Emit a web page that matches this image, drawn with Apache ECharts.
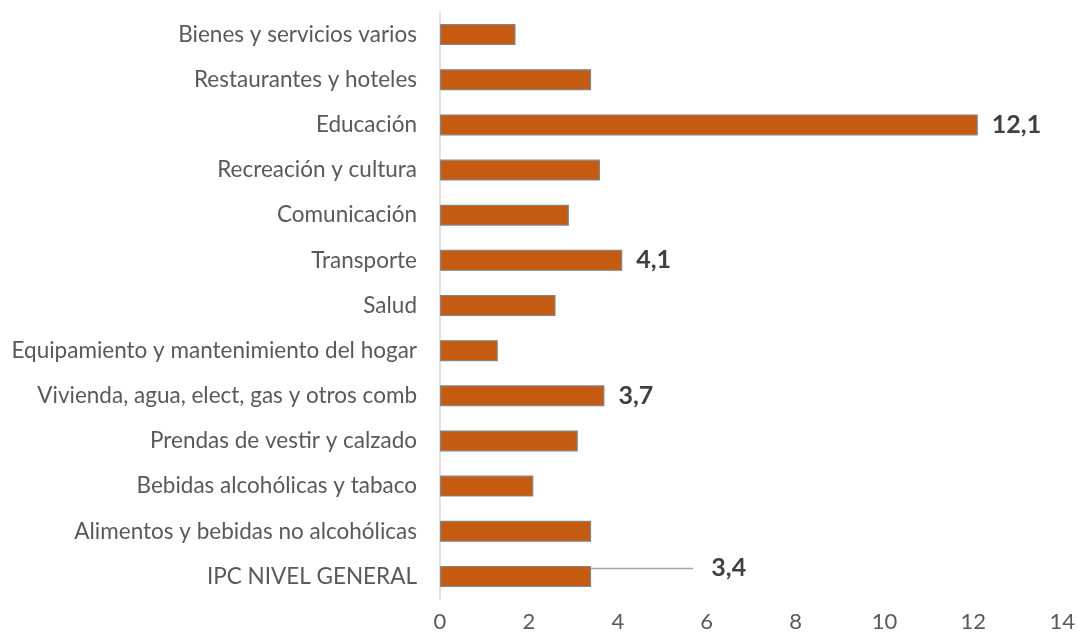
<!DOCTYPE html>
<html>
<head>
<meta charset="utf-8">
<script src="https://cdn.jsdelivr.net/npm/echarts@6/dist/echarts.min.js"></script>
<style>
  html, body { margin: 0; padding: 0; background: #fff; }
  #chart { width: 1078px; height: 639px; }
</style>
</head>
<body>
<div id="chart"></div>
<script>
// categorías, de abajo hacia arriba
const categories = [
  'IPC NIVEL GENERAL',
  'Alimentos y bebidas no alcohólicas',
  'Bebidas alcohólicas y tabaco',
  'Prendas de vestir y calzado',
  'Vivienda, agua, elect, gas y otros comb',
  'Equipamiento y mantenimiento del hogar',
  'Salud',
  'Transporte',
  'Comunicación',
  'Recreación y cultura',
  'Educación',
  'Restaurantes y hoteles',
  'Bienes y servicios varios'
]
const values = [3.4, 3.4, 2.1, 3.1, 3.7, 1.3, 2.6, 4.1, 2.9, 3.6, 12.1, 3.4, 1.7]
// solo estas barras llevan etiqueta
const labelled = ['IPC NIVEL GENERAL', 'Vivienda, agua, elect, gas y otros comb', 'Transporte', 'Educación']
const xTicks = [0, 2, 4, 6, 8, 10, 12, 14]

const fmt = (v) => v.toFixed(1).replace('.', ',')
const FONT = 'Lato'
const IPC = 'IPC NIVEL GENERAL'

const chart = echarts.init(document.getElementById('chart'))

chart.setOption({
  animation: false,
  grid: { left: 440, right: 15, top: 12, bottom: 40 },
  xAxis: {
    type: 'value',
    min: xTicks[0],
    max: xTicks[xTicks.length - 1],
    interval: 2,
    axisLine: { show: false },
    axisTick: { show: false },
    splitLine: { show: false },
    axisLabel: { color: '#595959', fontFamily: FONT, fontSize: 22, margin: 12 }
  },
  yAxis: {
    type: 'category',
    data: categories,
    axisLine: { show: true, lineStyle: { color: '#d9d9d9', width: 1.5 } },
    axisTick: { show: false },
    axisLabel: { color: '#595959', fontFamily: FONT, fontSize: 22.5, margin: 23 }
  },
  series: [
    {
      type: 'bar',
      barWidth: 21,
      data: values.map((v, i) => ({
        value: v,
        label: { show: labelled.includes(categories[i]) },
        labelLine: { show: categories[i] === IPC, lineStyle: { color: '#a6a6a6', width: 1.5 } }
      })),
      itemStyle: { color: '#c55a11', borderColor: '#858585', borderWidth: 1.2 },
      label: {
        position: 'right',
        distance: 14,
        color: '#404040',
        fontFamily: FONT,
        fontWeight: 'bold',
        fontSize: 25,
        // espacios delante para dejar hueco entre la línea guía y el texto del IPC
        formatter: (p) => (p.name === IPC ? '   ' : '') + fmt(p.value)
      },
      // la etiqueta del IPC va desplazada con línea guía
      labelLayout: (p) => (categories[p.dataIndex] === IPC ? { dx: 88, dy: -8 } : {})
    }
  ]
})
</script>
</body>
</html>
